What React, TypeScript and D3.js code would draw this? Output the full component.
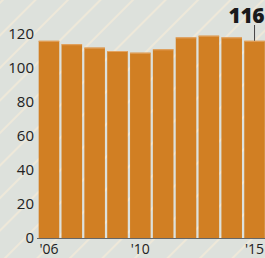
import React, { useEffect, useRef } from 'react'
import * as d3 from 'd3'

const years = [2006, 2007, 2008, 2009, 2010, 2011, 2012, 2013, 2014, 2015]
const values = [116, 114, 112, 110, 109, 111, 118, 119, 118, 116]
const yTicks = [0, 20, 40, 60, 80, 100, 120]
const xLabels = [
  { year: 2006, label: "'06" },
  { year: 2010, label: "'10" },
  { year: 2015, label: "'15" },
]

const App = () => {
  const ref = useRef<SVGSVGElement>(null)

  useEffect(() => {
    const svg = d3.select(ref.current)
    svg.selectAll('*').remove()

    const width = 265
    const height = 258
    const font = "'Open Sans', sans-serif"

    const defs = svg.append('defs')
    const pat = defs
      .append('pattern')
      .attr('id', 'stripes')
      .attr('patternUnits', 'userSpaceOnUse')
      .attr('width', 23)
      .attr('height', 23)
      .attr('patternTransform', 'rotate(45)')
    pat.append('rect').attr('width', 23).attr('height', 23).attr('fill', '#dde1dc')
    pat.append('line')
      .attr('x1', 2).attr('x2', 2).attr('y1', 0).attr('y2', 23)
      .attr('stroke', '#f6ecd8').attr('stroke-width', 1.4)

    svg.append('rect').attr('width', width).attr('height', height).attr('fill', 'url(#stripes)')

    const x = d3.scaleBand<number>().domain(years).range([38, 265.5]).paddingInner(0.1).paddingOuter(0.03)
    const y = d3.scaleLinear().domain([0, 120]).range([238, 34])

    // bars
    const bars = svg.append('g')
    years.forEach((yr, i) => {
      bars.append('rect')
        .attr('x', x(yr)!)
        .attr('y', y(values[i]))
        .attr('width', x.bandwidth())
        .attr('height', y(0) - y(values[i]))
        .attr('fill', '#d17f23')
      bars.append('rect')
        .attr('x', x(yr)!)
        .attr('y', y(values[i]))
        .attr('width', x.bandwidth())
        .attr('height', 1)
        .attr('fill', '#e3a462')
    })

    // y tick labels
    svg.append('g')
      .selectAll('text')
      .data(yTicks)
      .enter()
      .append('text')
      .attr('x', 34)
      .attr('y', (d) => y(d))
      .attr('dy', '0.36em')
      .attr('text-anchor', 'end')
      .attr('font-family', font)
      .attr('font-size', 15)
      .attr('fill', '#222')
      .text((d) => d)

    // axis line
    svg.append('line')
      .attr('x1', 37).attr('x2', 265)
      .attr('y1', y(0) + 0.5).attr('y2', y(0) + 0.5)
      .attr('stroke', '#666').attr('stroke-width', 1.2)

    // x labels
    svg.append('g')
      .selectAll('text')
      .data(xLabels)
      .enter()
      .append('text')
      .attr('x', (d) => x(d.year)! + x.bandwidth() / 2)
      .attr('y', 254)
      .attr('text-anchor', 'middle')
      .attr('font-family', font)
      .attr('font-size', 14)
      .attr('fill', '#222')
      .text((d) => d.label)

    // annotation on last bar
    const last = years[years.length - 1]
    const cx = x(last)! + x.bandwidth() / 2
    svg.append('line')
      .attr('x1', cx).attr('x2', cx)
      .attr('y1', 25).attr('y2', y(values[values.length - 1]))
      .attr('stroke', '#444').attr('stroke-width', 1)
    svg.append('text')
      .attr('x', 264)
      .attr('y', 23)
      .attr('text-anchor', 'end')
      .attr('font-family', font)
      .attr('font-weight', 800)
      .attr('font-size', 21)
      .attr('letter-spacing', -0.5)
      .attr('fill', '#1a1a1a')
      .text(values[values.length - 1])
  }, [])

  return (
    <svg
      ref={ref}
      width={265}
      height={258}
      style={{ position: 'absolute', left: 0, top: 0, display: 'block' }}
    />
  )
}

export default App
